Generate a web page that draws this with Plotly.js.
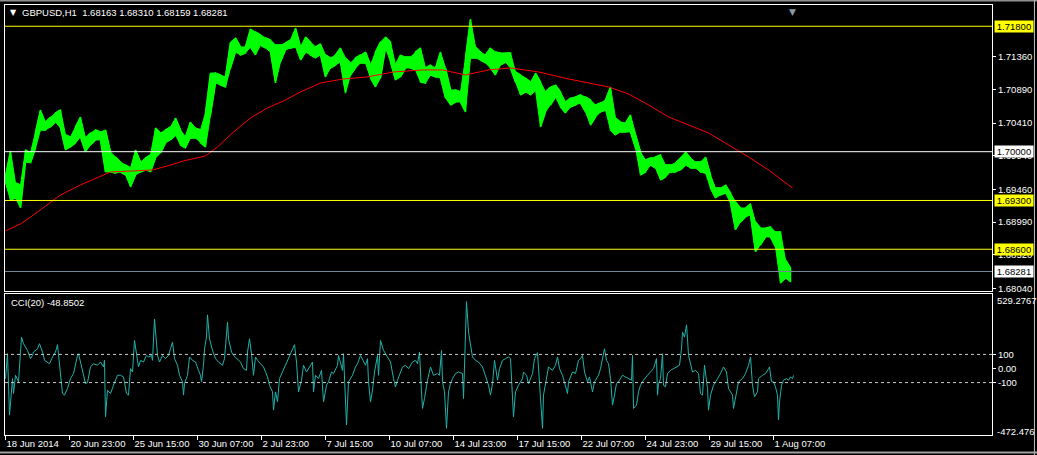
<!DOCTYPE html>
<html><head><meta charset="utf-8">
<script src="https://cdn.plot.ly/plotly-3.0.1.min.js"></script>
<style>html,body{margin:0;padding:0;background:#000;overflow:hidden}#chart{width:1037px;height:455px}</style>
</head><body><div id="chart"></div>
<script>
const symbolTitle = "GBPUSD,H1\u00A0\u00A01.68163 1.68310 1.68159 1.68281";
const cciTitle = "CCI(20) -48.8502";
const timeTickBars = [0,64,128,192,256,320,384,448,512,576,640,704,768];
const timeTickLabels = ["18 Jun 2014","20 Jun 23:00","25 Jun 15:00","30 Jun 07:00","2 Jul 23:00","7 Jul 15:00","10 Jul 07:00","14 Jul 23:00","17 Jul 15:00","22 Jul 07:00","24 Jul 23:00","29 Jul 15:00","1 Aug 07:00"];

const priceBars = [0,5,10,15,20,25,30,35,40,45,50,55,60,65,70,75,80,85,90,95,100,105,110,115,120,125,130,135,140,145,150,155,160,165,170,175,180,185,190,195,200,205,210,215,220,225,230,235,240,245,250,255,260,265,270,275,280,285,290,295,300,305,310,315,320,325,330,335,340,345,350,355,360,365,370,375,380,385,390,395,400,405,410,415,420,425,430,435,440,445,450,455,460,465,470,475,480,485,490,495,500,505,510,515,520,525,530,535,540,545,550,555,560,565,570,575,580,585,590,595,600,605,610,615,620,625,630,635,640,645,650,655,660,665,670,675,680,685,690,695,700,705,710,715,720,725,730,735,740,745,750,755,760,765,770,775,780,785];
const priceHigh = [1.69651,1.70010,1.69551,1.69522,1.70025,1.69981,1.70283,1.70599,1.70426,1.70498,1.70555,1.70599,1.70240,1.70211,1.70355,1.70498,1.70197,1.70268,1.70312,1.70283,1.70312,1.69996,1.69924,1.69852,1.69809,1.69766,1.70025,1.69852,1.69910,1.69953,1.70340,1.70268,1.70312,1.70355,1.70484,1.70312,1.70211,1.70426,1.70340,1.70312,1.70555,1.71129,1.71129,1.71101,1.71072,1.71574,1.71632,1.71503,1.71503,1.71761,1.71718,1.71675,1.71632,1.71603,1.71531,1.71531,1.71560,1.71603,1.71775,1.71503,1.71646,1.71574,1.71503,1.71546,1.71388,1.71345,1.71388,1.71488,1.71345,1.71273,1.71345,1.71388,1.71431,1.71244,1.71431,1.71574,1.71646,1.71574,1.71244,1.71388,1.71359,1.71359,1.71431,1.71488,1.71201,1.71244,1.71201,1.71431,1.71201,1.70886,1.70886,1.70857,1.71345,1.71904,1.71503,1.71431,1.71388,1.71488,1.71431,1.71416,1.71416,1.71416,1.71144,1.71101,1.71058,1.71000,1.71129,1.71000,1.70857,1.70929,1.70957,1.70857,1.70713,1.70771,1.70785,1.70814,1.70785,1.70742,1.70670,1.70699,1.70742,1.70929,1.70484,1.70426,1.70412,1.70527,1.70240,1.69996,1.69881,1.69910,1.69924,1.69953,1.69809,1.69809,1.69838,1.69910,1.69996,1.69910,1.69852,1.69852,1.69924,1.69666,1.69479,1.69479,1.69522,1.69407,1.69278,1.69192,1.69192,1.69250,1.68991,1.68905,1.68905,1.68920,1.68848,1.68848,1.68446,1.68331];
const priceLow = [1.69551,1.69307,1.69336,1.69192,1.69852,1.69838,1.70053,1.70312,1.70312,1.70355,1.70426,1.70340,1.70025,1.70068,1.70125,1.70211,1.69996,1.70096,1.70168,1.70168,1.69709,1.69709,1.69694,1.69709,1.69666,1.69494,1.69666,1.69709,1.69738,1.69709,1.69910,1.69981,1.70125,1.70168,1.70240,1.70096,1.70053,1.70197,1.70197,1.70125,1.70068,1.70527,1.70986,1.70957,1.70929,1.71201,1.71431,1.71388,1.71416,1.71503,1.71388,1.71531,1.71488,1.71431,1.70986,1.71287,1.71460,1.71488,1.71503,1.71316,1.71431,1.71388,1.71345,1.71388,1.71072,1.71201,1.71244,1.71287,1.70842,1.71101,1.71201,1.71273,1.71273,1.71058,1.70929,1.71058,1.71488,1.71287,1.71029,1.71072,1.71201,1.71201,1.71173,1.71000,1.70986,1.71101,1.71072,1.71058,1.70771,1.70670,1.70713,1.70713,1.70570,1.71345,1.71345,1.71316,1.71273,1.71201,1.71101,1.71244,1.71287,1.71201,1.71000,1.70814,1.70857,1.70814,1.70886,1.70355,1.70570,1.70670,1.70785,1.70642,1.70555,1.70642,1.70670,1.70699,1.70570,1.70383,1.70498,1.70570,1.70599,1.70312,1.70240,1.70283,1.70283,1.70283,1.70053,1.69666,1.69709,1.69809,1.69766,1.69594,1.69637,1.69709,1.69709,1.69738,1.69809,1.69766,1.69766,1.69709,1.69694,1.69479,1.69336,1.69379,1.69407,1.69264,1.68877,1.68991,1.69063,1.69092,1.68561,1.68661,1.68776,1.68776,1.68633,1.68116,1.68188,1.68130];

const maBars = [0,15,28,45,55,75,95,105,128,147,162,178,200,212,228,245,262,278,295,315,338,362,388,417,437,460,483,505,533,563,603,623,643,663,683,703,723,743,763,787];
const maValues = [1.68863,1.68963,1.69092,1.69279,1.69379,1.69523,1.69652,1.69709,1.69724,1.69738,1.69795,1.69867,1.69939,1.70068,1.70283,1.70484,1.70628,1.70728,1.70857,1.70986,1.71044,1.71073,1.71144,1.71173,1.71173,1.71101,1.71173,1.71202,1.71144,1.71044,1.70929,1.70829,1.70671,1.70499,1.70384,1.70269,1.70097,1.69925,1.69738,1.69480];

const cciBars = [0,2,4,7,8,10,13,16,18,22,25,27,28,32,34,37,39,42,44,47,50,52,54,57,59,62,65,68,72,73,75,78,80,82,85,88,92,95,98,99,100,102,105,108,112,115,118,121,123,125,127,129,131,133,135,138,141,143,146,147,149,151,152,154,157,160,163,165,167,169,172,174,177,178,179,182,184,187,190,193,195,196,198,199,201,202,204,207,210,213,217,219,221,222,223,226,228,231,235,238,241,242,244,246,248,250,252,255,258,262,264,267,268,270,272,274,277,280,283,287,289,291,293,296,298,301,303,307,308,310,313,316,318,321,323,326,328,332,333,335,337,338,341,343,347,350,352,355,358,360,362,363,365,367,369,372,373,375,378,382,385,388,390,392,397,400,403,407,410,412,414,416,417,419,422,425,428,432,434,436,437,439,441,443,445,447,450,453,457,458,460,461,463,465,467,470,473,477,480,483,485,487,489,492,494,497,500,503,505,507,508,510,513,517,518,521,523,527,529,532,534,537,538,541,543,547,550,552,554,557,560,562,563,567,570,573,575,577,579,582,584,587,589,593,595,597,599,601,603,605,607,609,611,614,617,620,623,626,627,628,631,633,635,638,642,645,648,651,652,653,655,657,658,660,662,665,668,672,674,676,677,679,681,682,683,687,690,693,695,697,699,702,703,705,708,712,715,718,721,723,727,728,731,733,737,740,743,745,747,749,752,753,757,760,763,764,766,768,770,772,773,774,776,778,781,783,785,787,788];
const cciValues = [-72,105,-331,-72,-178,-48,-95,223,176,129,70,93,117,140,176,117,58,46,34,82,117,169,23,-178,-189,-142,-72,-36,93,105,46,-48,-107,-100,11,34,23,46,11,58,-343,-154,-178,-119,-48,-48,-60,-178,-189,-1,-25,199,93,11,58,46,93,82,93,58,352,211,93,46,93,70,93,140,188,70,23,-48,-95,-189,-107,-48,82,58,46,-13,-48,-95,23,140,223,381,211,129,70,46,23,70,223,329,211,117,93,70,46,-1,-13,117,211,105,-48,82,58,34,11,-60,-119,-166,-295,-166,-237,-72,-25,23,70,129,169,46,-166,-83,23,-25,-1,46,-166,-48,-72,-13,-237,-119,-95,-25,-36,23,93,46,-13,105,-401,-95,-48,11,34,93,46,23,70,-95,-237,-154,-25,93,-48,199,129,82,46,-72,-131,-83,11,23,-1,46,58,34,117,-166,-284,-213,-83,11,-48,-36,-48,129,-95,-166,-425,-166,-107,-72,-36,-25,-36,-213,187,475,258,164,82,58,46,11,-48,-119,-189,-107,58,-83,-1,58,70,82,70,-189,-343,-166,-119,-72,-25,-48,-107,-36,70,112,-95,-425,-189,-72,11,-13,23,82,-1,-48,-119,-178,-95,-25,-36,58,70,93,-25,-95,-60,-166,-95,-48,-1,70,140,58,34,-72,-260,-189,-107,-83,-48,-60,-72,-83,93,-284,-260,-166,-119,-83,-48,-25,-1,70,-189,-107,-72,105,-119,-131,-36,-13,-1,11,23,140,258,223,310,211,93,-25,-13,-36,-178,-189,23,-142,-296,-189,-119,-72,-36,11,-25,-142,-189,-284,-166,-95,-72,-36,23,82,-119,-201,-166,-72,-48,-36,-1,11,-95,-95,-131,-189,-366,-237,-119,-83,-72,-83,-60,-72,-49];

const priceTickVals = [1.68040,1.68520,1.68990,1.69460,1.69940,1.70410,1.70890,1.71360];
const levelPrices = [1.71800, 1.70000, 1.69300, 1.68600, 1.68281];
const levelKinds = ["yellow","white","yellow","yellow","bid"];
const cciLevels = [100, -100];
const cciTickVals = [100, 0, -100];
const cciTickText = ["100", "0.00", "-100"];
const cciMax = 529.2767, cciMin = -472.476;
const priceMax = 1.72105, priceMin = 1.68001;

const FONT = "Liberation Sans, Arial, sans-serif";
const lineColor = {yellow:"#FFFF00", white:"#FFFFFF", bid:"#778899"};
const boxColor = {yellow:"#FFFF00", white:"#FFFFFF", bid:"#FFFFFF"};

// alternating low/high path over the sampled bars gives a bar-like texture along the band
const sawX = [], sawY = [];
priceBars.forEach((b,i)=>{
  if (i % 2 === 0) { sawX.push(b, b); sawY.push(priceLow[i], priceHigh[i]); }
  else { sawX.push(b, b); sawY.push(priceHigh[i], priceLow[i]); }
});

const traces = [
  {x: priceBars, y: priceLow, type:"scatter", mode:"lines", line:{color:"#00FF00", width:1}, xaxis:"x", yaxis:"y", hoverinfo:"skip"},
  {x: priceBars, y: priceHigh, type:"scatter", mode:"lines", line:{color:"#00FF00", width:1}, fill:"tonexty", fillcolor:"#00FF00", xaxis:"x", yaxis:"y", hoverinfo:"skip"},
  {x: sawX, y: sawY, type:"scatter", mode:"lines", line:{color:"#00FF00", width:1.5}, xaxis:"x", yaxis:"y", hoverinfo:"skip"},
  {x: maBars, y: maValues, type:"scatter", mode:"lines", line:{color:"#FF0000", width:1}, xaxis:"x", yaxis:"y", hoverinfo:"skip"},
  {x: cciBars, y: cciValues, type:"scatter", mode:"lines", line:{color:"#20B2AA", width:1}, xaxis:"x2", yaxis:"y2", hoverinfo:"skip"}
];

const shapes = [];
levelPrices.forEach((p,i)=>{
  shapes.push({type:"line", xref:"paper", yref:"y", x0:0, x1:1, y0:p, y1:p, line:{color:lineColor[levelKinds[i]], width:1}});
});
cciLevels.forEach(v=>{
  shapes.push({type:"line", xref:"paper", yref:"y2", x0:0, x1:1, y0:v, y1:v, line:{color:"#C8C8C8", width:1, dash:"3px,3px"}});
});
// window frame
shapes.push({type:"line", xref:"paper", yref:"paper", x0:-0.006, x1:1.05, y0:1.0105, y1:1.0105, line:{color:"#909090", width:2}});
shapes.push({type:"line", xref:"paper", yref:"paper", x0:1.043, x1:1.043, y0:-0.05, y1:1.02, line:{color:"#C0C0C0", width:1}});
shapes.push({type:"line", xref:"paper", yref:"paper", x0:-0.006, x1:1.05, y0:-0.0405, y1:-0.0405, line:{color:"#A0A0A0", width:2}});

const annotations = [];
levelPrices.forEach((p,i)=>{
  annotations.push({xref:"paper", yref:"y", x:1.002, y:p, xanchor:"left", yanchor:"middle", text:p.toFixed(5), showarrow:false,
    bgcolor:boxColor[levelKinds[i]], font:{family:FONT, size:9.5, color:"#000000"}, width:38, height:11, borderpad:0, align:"center"});
});
annotations.push({xref:"paper", yref:"y2", x:1.003, y:cciMax, xanchor:"left", yanchor:"middle", yshift:-6, text:String(cciMax), showarrow:false, font:{family:FONT, size:9.5, color:"#FFFFFF"}});
annotations.push({xref:"paper", yref:"y2", x:1.003, y:cciMin, xanchor:"left", yanchor:"middle", yshift:4, text:String(cciMin), showarrow:false, font:{family:FONT, size:9.5, color:"#FFFFFF"}});
annotations.push({xref:"paper", yref:"paper", x:0.003, y:0.9814, xanchor:"left", yanchor:"middle", text:"\u25BC", showarrow:false, font:{family:"DejaVu Sans", size:8, color:"#FFFFFF"}});
annotations.push({xref:"paper", yref:"paper", x:0.0152, y:0.9814, xanchor:"left", yanchor:"middle", text:symbolTitle, showarrow:false, font:{family:FONT, size:9.5, color:"#FFFFFF"}});
annotations.push({xref:"paper", yref:"paper", x:0.004, y:0.3093, xanchor:"left", yanchor:"middle", text:cciTitle, showarrow:false, font:{family:FONT, size:9.5, color:"#FFFFFF"}});
annotations.push({xref:"paper", yref:"paper", x:0.798, y:0.999, xanchor:"center", yanchor:"top", text:"\u25BC", showarrow:false, font:{family:"DejaVu Sans", size:9, color:"#8899AA"}});

const axisFont = {family:FONT, size:9.5, color:"#FFFFFF"};
const layout = {
  width:1037, height:455,
  margin:{l:5, r:45, t:5, b:20, pad:0},
  paper_bgcolor:"#000000", plot_bgcolor:"#000000",
  showlegend:false,
  xaxis:{domain:[0,1], anchor:"y", range:[-0.5,986.5], showticklabels:false, ticks:"", showgrid:false, zeroline:false,
    showline:true, mirror:true, linecolor:"#FFFFFF", linewidth:1},
  xaxis2:{domain:[0,1], anchor:"y2", matches:"x", range:[-0.5,986.5], tickmode:"array", tickvals:timeTickBars, ticktext:timeTickLabels,
    ticks:"outside", ticklen:4, tickcolor:"#FFFFFF", ticklabelposition:"outside right", tickfont:axisFont, showgrid:false, zeroline:false,
    showline:true, mirror:true, linecolor:"#FFFFFF", linewidth:1},
  yaxis:{domain:[0.3349,1], anchor:"x", side:"right", range:[priceMin, priceMax], tickmode:"array", tickvals:priceTickVals,
    ticktext:priceTickVals.map(v=>v.toFixed(5)), ticks:"outside", ticklen:3, tickcolor:"#FFFFFF", tickfont:axisFont,
    showgrid:false, zeroline:false, showline:true, mirror:true, linecolor:"#FFFFFF", linewidth:1},
  yaxis2:{domain:[0,0.3279], anchor:"x2", side:"right", range:[cciMin, cciMax], tickmode:"array", tickvals:cciTickVals,
    ticktext:cciTickText, ticks:"outside", ticklen:3, tickcolor:"#FFFFFF", tickfont:axisFont,
    showgrid:false, zeroline:false, showline:true, mirror:true, linecolor:"#FFFFFF", linewidth:1},
  shapes:shapes, annotations:annotations
};
Plotly.newPlot("chart", traces, layout, {staticPlot:true, displayModeBar:false});
</script></body></html>
